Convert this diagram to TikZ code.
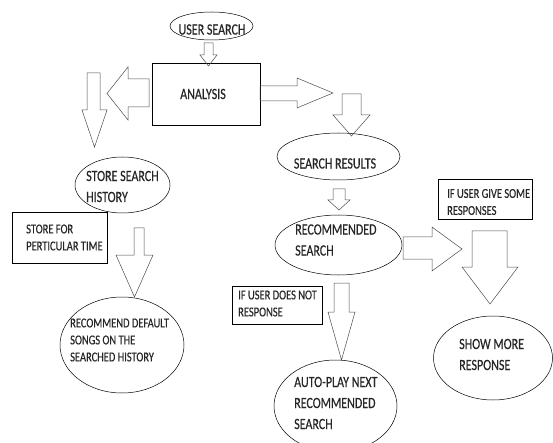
\documentclass[tikz,border=0pt]{standalone}
\usepackage{fontspec}
\setmainfont{Carlito}
\newfontfamily\tallfont[FakeStretch=0.77, FakeBold=0.4]{Carlito}
\usetikzlibrary{shapes.geometric}

% block arrows: shaft centre, head centre, start, neck, tip, half shaft, half head
\newcommand{\blkv}[7]{%
  \draw[blk] (#1-#6,#3) -- (#1+#6,#3) -- (#1+#6,#4) -- (#2+#7,#4) -- (#2,#5) -- (#2-#7,#4) -- (#1-#6,#4) -- cycle;}
\newcommand{\blkh}[7]{%
  \draw[blk] (#3,#1-#6) -- (#4,#1-#6) -- (#4,#2-#7) -- (#5,#2) -- (#4,#2+#7) -- (#4,#1+#6) -- (#3,#1+#6) -- cycle;}

\begin{document}
\begin{tikzpicture}[
  x=1pt, y=-1pt,
  oval/.style={ellipse, draw, line width=0.5pt, inner sep=0pt},
  note/.style={draw, line width=0.5pt, inner sep=0pt},
  lbl/.style={inner sep=0pt, align=left, text=black!85, font=\tallfont\fontsize{15.6}{21}\selectfont},
  small/.style={inner sep=0pt, align=left, text=black!85, font=\tallfont\fontsize{13.6}{17}\selectfont},
  blk/.style={draw=black!70, line width=0.5pt}
]
  \useasboundingbox (0,0) rectangle (553,443);

  \node[oval, minimum width=83pt, minimum height=28pt] (user) at (211.5,26) {};
  \node[lbl] (usertxt) at (212,29.5) {USER SEARCH};
  \node[note, minimum width=108pt, minimum height=62pt] (analysis) at (206,94) {};
  \node[lbl] (analysistxt) at (203,94) {ANALYSIS};

  \node[oval, minimum width=95pt, minimum height=56pt] (history) at (122.5,185) {};
  \node[lbl, anchor=west] (historytxt) at (86,186.5) {STORE SEARCH\\HISTORY};
  \node[note, minimum width=95pt, minimum height=51pt] (keep) at (59.5,237.5) {};
  \node[small, anchor=west] (keeptxt) at (26,237.5) {STORE FOR\\PERTICULAR TIME};
  \node[oval, minimum width=124pt, minimum height=96pt] (default) at (122,345) {};
  \node[small, anchor=west] (defaulttxt) at (70,340) {RECOMMEND DEFAULT\\SONGS ON THE\\SEARCHED HISTORY};

  \node[oval, minimum width=123pt, minimum height=47pt] (results) at (338.5,156.5) {};
  \node[lbl] (resultstxt) at (335,163.5) {SEARCH RESULTS};
  \node[oval, minimum width=127pt, minimum height=60pt] (recommended) at (338.5,245) {};
  \node[lbl, anchor=west] (recommendedtxt) at (295,240) {RECOMMENDED\\SEARCH};
  \node[note, minimum width=90pt, minimum height=38pt] (noresp) at (277,305) {};
  \node[small, anchor=west] (noresptxt) at (238,303.5) {IF USER DOES NOT\\RESPONSE};
  \node[oval, minimum width=123pt, minimum height=92pt] (autoplay) at (335.5,406) {};
  \node[lbl, anchor=west] (autoplaytxt) at (294,403) {AUTO-PLAY NEXT\\RECOMMENDED\\SEARCH};

  \node[note, minimum width=94pt, minimum height=40pt] (giveresp) at (485,199) {};
  \node[small, anchor=west] (giveresptxt) at (447,202) {IF USER GIVE SOME\\RESPONSES};
  \node[oval, minimum width=119pt, minimum height=84pt] (showmore) at (493,358) {};
  \node[lbl, anchor=west] (showmoretxt) at (459,354.5) {SHOW MORE\\RESPONSE};

  \blkv{208.5}{208.5}{43}{55}{66}{4.5}{8.5}
  \blkh{93}{93.5}{149}{128}{107}{14}{26.5}
  \blkv{93.5}{94.5}{73}{110}{147}{6.5}{12.5}
  \blkh{93.5}{93}{260}{297}{333}{7.5}{15}
  \blkv{351.5}{351.5}{94}{115}{136}{9.5}{18.5}
  \blkv{339}{339}{189}{200}{210}{6}{11}
  \blkh{248}{249}{403}{432}{462}{11}{22}
  \blkv{489.5}{490}{231}{267}{304}{17.5}{28}
  \blkv{341.5}{341.5}{283}{312}{360}{7.5}{13.5}
  \blkv{139}{134.5}{228}{255}{297}{5}{18.5}
\end{tikzpicture}
\end{document}
